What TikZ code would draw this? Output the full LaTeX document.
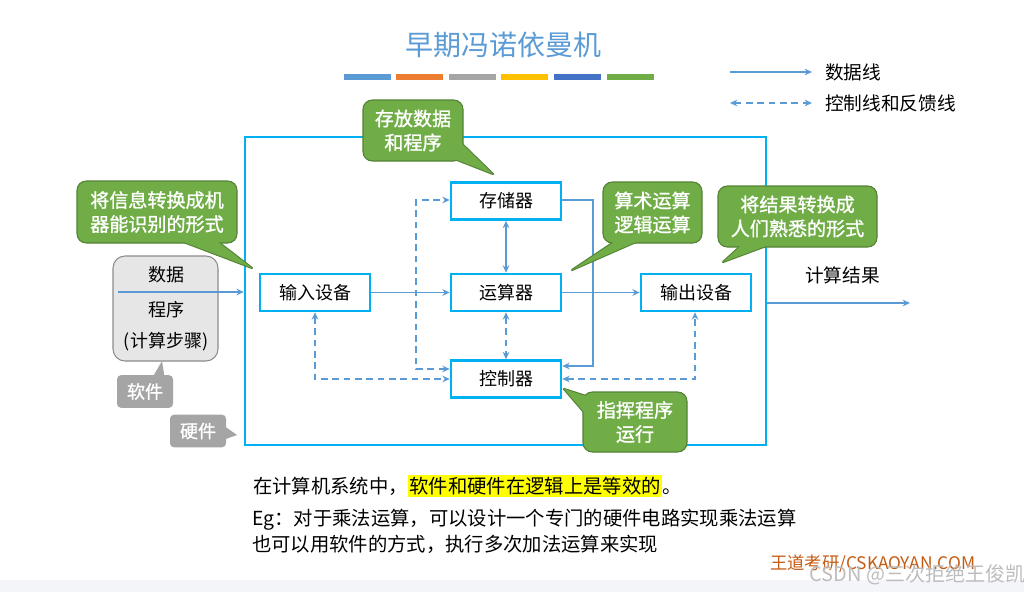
\documentclass[tikz,border=0pt]{standalone}
\usepackage{fontspec}
\newfontfamily\cjk{Noto Sans CJK SC}
\newfontfamily\cjkb[FakeBold=1.2]{Noto Sans CJK SC}
\usetikzlibrary{arrows.meta}
\definecolor{cframe}{HTML}{00B0F0}
\definecolor{carrow}{HTML}{5B9BD5}
\definecolor{cgreen}{HTML}{70AD47}
\definecolor{cgreend}{HTML}{548235}
\definecolor{cgrayfill}{HTML}{E7E6E6}
\definecolor{cgrayline}{HTML}{8C8C8C}
\definecolor{cgraycall}{HTML}{A5A5A5}
\definecolor{ctitle}{HTML}{5B9BD5}
\definecolor{cbara}{HTML}{5B9BD5}
\definecolor{cbarb}{HTML}{ED7D31}
\definecolor{cbarc}{HTML}{A5A5A5}
\definecolor{cbard}{HTML}{FFC000}
\definecolor{cbare}{HTML}{4472C4}
\definecolor{cbarf}{HTML}{70AD47}
\definecolor{cwang}{HTML}{C55A11}
\definecolor{chl}{HTML}{FFFF00}
\definecolor{cstrip}{HTML}{F4F5F8}
\definecolor{cwm}{HTML}{BDBDBD}
\newcommand\greencall[6]{%
  \draw[gptr] #5 -- cycle;
  \node[gbox, minimum width=#3, minimum height=#4] (#1) at #2 {#6};
  \fill[cgreen] #5 -- cycle;
}
\tikzset{
  unit/.style={draw=cframe, line width=2pt, fill=white, minimum width=82.5pt,
    minimum height=27.75pt, inner sep=0pt, font=\cjk\fontsize{13.5pt}{16pt}\selectfont},
  tip/.tip={Stealth[length=5.5pt,width=5pt]},
  dataline/.style={carrow, line width=1.35pt, -tip},
  databoth/.style={carrow, line width=1.35pt, tip-tip},
  ctrlline/.style={carrow, line width=1.35pt, dash pattern=on 5pt off 3.5pt, tip-tip},
  gbox/.style={rounded corners=7pt, fill=cgreen, draw=cgreend, line width=0.8pt,
    text=white, align=center, inner sep=0pt,
    font=\cjkb\fontsize{14.3pt}{18pt}\selectfont},
  gptr/.style={fill=cgreen, draw=cgreend, line width=1.6pt, line join=round},
  graycall/.style={rounded corners=3pt, fill=cgraycall, text=white, inner sep=0pt,
    minimum width=42pt, minimum height=24.5pt, font=\cjkb\fontsize{13.5pt}{16pt}\selectfont},
  lbl/.style={font=\cjk\fontsize{14pt}{17pt}\selectfont, inner sep=0pt},
  btxt/.style={font=\cjk\fontsize{14.5pt}{17pt}\selectfont, inner sep=0pt, anchor=west},
}
\begin{document}
\begin{tikzpicture}[x=0.75pt,y=-0.75pt]
\useasboundingbox (0,0) rectangle (1024,592);
\fill[white] (0,0) rectangle (1024,592);
\fill[cstrip] (0,580) rectangle (1024,592);

% title and colour bars
\node[font=\cjk\fontsize{21pt}{24pt}\selectfont, text=ctitle, inner sep=0pt] (title) at (503,45) {早期冯诺依曼机};
\fill[cbara] (344,74) rectangle (391,80);
\fill[cbarb] (396,74) rectangle (443,80);
\fill[cbarc] (449,74) rectangle (496,80);
\fill[cbard] (501,74) rectangle (548,80);
\fill[cbare] (554,74) rectangle (601,80);
\fill[cbarf] (607,74) rectangle (654,80);

% legend
\coordinate (la) at (730,72);
\coordinate (lb) at (812,72);
\draw[dataline] (la) -- (lb);
\node[lbl, anchor=west] (lt1) at (825,72) {数据线};
\coordinate (lc) at (730,103);
\coordinate (ld) at (812,103);
\draw[ctrlline] (lc) -- (ld);
\node[lbl, anchor=west] (lt2) at (825,103) {控制线和反馈线};

% frame
\node[draw=cframe, line width=1.9pt, minimum width=390.75pt, minimum height=231pt, inner sep=0pt] (frame) at (505.5,291) {};

% software box
\node[draw=cgrayline, line width=0.8pt, fill=cgrayfill, rounded corners=9pt,
  minimum width=78.75pt, minimum height=78.75pt, inner sep=0pt] (soft) at (165.5,308.5) {};
\node[lbl, font=\cjk\fontsize{13.5pt}{16pt}\selectfont] (s1) at (166,275) {数据};
\node[lbl, font=\cjk\fontsize{13.5pt}{16pt}\selectfont] (s2) at (166,310) {程序};
\node[lbl, font=\cjk\fontsize{13.5pt}{16pt}\selectfont] (s3) at (166,342) {(计算步骤)};

% units
\node[unit] (in) at (315,292.5) {输入设备};
\node[unit] (mem) at (506,201) {存储器};
\node[unit] (alu) at (506,292.5) {运算器};
\node[unit] (ctl) at (506,379) {控制器};
\node[unit] (out) at (696,292.5) {输出设备};

% data lines
\coordinate (inS) at (118,292);
\draw[dataline] (inS) -- (frame.west |- inS);
\draw[dataline] (in.east) -- (alu.west);
\draw[dataline] (alu.east) -- (out.west);
\draw[databoth] (mem.south) -- (alu.north);
\coordinate (mr) at (593,200);
\coordinate (mrb) at (593,366);
\draw[carrow, line width=1.35pt, -tip] (mem.east |- mr) -- (mr) -- (mrb) -- (ctl.east |- mrb);
\coordinate (outE) at (910,303);
\draw[dataline] (frame.east |- outE) -- (outE);
\node[lbl, anchor=west] (res) at (805,275) {计算结果};

% control lines
\draw[ctrlline] (alu.south) -- (ctl.north);
\coordinate (cr) at (695,379);
\draw[ctrlline] (ctl.east |- cr) -- (cr) -- (out.south -| cr);
\coordinate (cl) at (315,379);
\draw[ctrlline] (in.south) -- (cl) -- (ctl.west |- cl);
\coordinate (ll) at (416,369);
\coordinate (lt) at (416,200);
\draw[ctrlline] (ctl.west |- ll) -- (ll) -- (lt) -- (mem.west |- lt);

% green callouts
\greencall{c1}{(157,212)}{120pt}{46.5pt}{(252,268) -- (173,238) -- (213,238)}{将信息转换成机\\器能识别的形式}
\greencall{c2}{(413,130.5)}{75pt}{45.75pt}{(493,174) -- (447,156) -- (458,140)}{存放数据\\和程序}
\greencall{c3}{(652.5,212.5)}{74.25pt}{45.75pt}{(572,270) -- (620,238) -- (645,238)}{算术运算\\逻辑运算}
\greencall{c4}{(797.5,216.5)}{119.25pt}{45.75pt}{(723,262) -- (745,242) -- (777,242)}{将结果转换成\\人们熟悉的形式}
\greencall{c5}{(635,422)}{78pt}{45pt}{(564,389) -- (589,397) -- (589,418)}{指挥程序\\运行}

% gray callouts
\fill[cgraycall] (162,361) -- (151,380) -- (165,380) -- cycle;
\node[graycall] (sw) at (145,391.5) {软件};
\fill[cgraycall] (237,435) -- (220,423) -- (220,441) -- cycle;
\node[graycall] (hw) at (198,431) {硬件};

% bottom text
\node[btxt] (b1) at (253,486) {在计算机系统中，{\setlength{\fboxsep}{1.2pt}\colorbox{chl}{软件和硬件在逻辑上是等效的}}。};
\node[btxt] (b2) at (252,520) {Eg：对于乘法运算，可以设计一个专门的硬件电路实现乘法运算};
\node[btxt] (b3) at (252,544) {也可以用软件的方式，执行多次加法运算来实现};
\node[font=\cjk\fontsize{13pt}{15pt}\selectfont, text=cwang, inner sep=0pt, anchor=west] (wd) at (770,564) {王道考研/CSKAOYAN.COM};
\node[font=\cjk\fontsize{15pt}{17pt}\selectfont, text=cwm, inner sep=0pt, anchor=west] (csdn) at (809,575) {CSDN @三次拒绝王俊凯};
\end{tikzpicture}
\end{document}
